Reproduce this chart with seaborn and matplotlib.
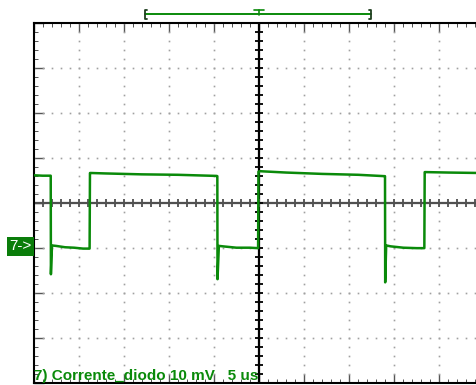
import numpy as np
import pandas as pd
import matplotlib
matplotlib.use("Agg")
import matplotlib.pyplot as plt
import matplotlib.transforms as mtrans
import seaborn as sns

# ---- data ----
time_us = [0.0, 1.0, 1.88, 1.91, 1.93, 2.05, 2.5, 3.5, 4.5, 5.5, 6.22, 6.26, 6.4, 8.0, 12.0, 16.0, 20.3,
           20.38, 20.40, 20.55, 21.0, 22.5, 24.0, 24.9, 24.94, 25.1, 28.0, 32.0, 36.0, 38.9,
           38.97, 38.99, 39.1, 39.6, 41.0, 42.5, 43.33, 43.37, 43.5, 46.0, 49.5]
voltage_mV = [16.1, 16.0, 16.0, 16.0, -5.9, 0.5, 0.4, 0.1, 0.0, -0.2, -0.2, 16.6, 16.6, 16.5, 16.3, 16.2, 15.95,
              15.9, -7.0, 0.4, 0.3, 0.0, 0.0, -0.1, 16.9, 17.0, 16.7, 16.4, 16.2, 15.9,
              15.9, -7.7, 0.5, 0.3, 0.0, -0.1, -0.1, 16.8, 16.8, 16.7, 16.6]

channel_label = "7) Corrente_diodo 10 mV   5 us"
marker_label = "7->"
window_start_us = 12.36
window_end_us = 37.42
trigger_us = 25.0

GREEN = "#0a8a0a"
DOT = "#a0a0a0"
px = 0.72  # points per pixel at dpi 100

df = pd.DataFrame({"t": time_us, "v": voltage_mV})

sns.set_style("white")
plt.rcParams['font.family'] = ['Liberation Sans', 'DejaVu Sans']

fig = plt.figure(figsize=(4.76, 3.85), dpi=100)
W, H = 476, 385
left, top, bottom = 33.5, 22.7, 382.7
ax = fig.add_axes([left / W, (H - bottom) / H, (484.5 - left) / W, (bottom - top) / H])
ax.set_xlim(0, 50)
ax.set_ylim(-30, 50)

# dotted graticule
for gx in range(5, 50, 5):
    if gx == 25:
        continue
    ys = np.arange(-30, 50.1, 2)
    ax.plot([gx] * len(ys), ys, ls="none", marker="s", ms=1.2, mew=0, color=DOT, zorder=1)
for gy in range(-20, 50, 10):
    if gy == 10:
        continue
    xs = np.arange(0, 50.1, 1)
    ax.plot(xs, [gy] * len(xs), ls="none", marker="s", ms=1.2, mew=0, color=DOT, zorder=1)

# centre cross with ticks
ax.axvline(25, color="black", lw=1.6 * px * 1.4, zorder=2)
ax.axhline(10, color="#505050", lw=1.6 * px * 1.4, zorder=2)
xs = np.arange(0, 50.1, 1)
ax.plot(xs, [10] * len(xs), ls="none", marker="|", ms=8 * px, mew=1.3 * px * 1.4, color="#505050", zorder=2)
ys = np.arange(-30, 50.1, 2)
ax.plot([25] * len(ys), ys, ls="none", marker="_", ms=8 * px, mew=1.3 * px * 1.4, color="black", zorder=2)

# trace
sns.lineplot(data=df, x="t", y="v", sort=False, estimator=None, color=GREEN, lw=1.8, ax=ax, zorder=3)

# spines/ticks
for s in ["top", "left", "bottom"]:
    ax.spines[s].set_color("black")
    ax.spines[s].set_linewidth(1.5)
ax.spines["right"].set_visible(False)
ax.set_xticks(np.arange(0, 51, 5))
ax.set_xticks(np.arange(0, 51, 1), minor=True)
ax.set_yticks(np.arange(-30, 51, 10))
ax.set_yticks(np.arange(-30, 51, 2), minor=True)
ax.tick_params(axis="x", which="major", direction="in", length=9 * px, width=1.4 * px, color="#555555",
               top=True, bottom=True, labelbottom=False, labeltop=False)
ax.tick_params(axis="x", which="minor", direction="in", length=4 * px, width=1.0 * px, color="#555555",
               top=True, bottom=True)
ax.tick_params(axis="y", which="major", direction="in", length=10 * px, width=1.4 * px, color="#555555",
               left=True, right=False, labelleft=False)
ax.tick_params(axis="y", which="minor", direction="in", length=3.5 * px, width=1.0 * px, color="#555555",
               left=True, right=False)
ax.set_xlabel("")
ax.set_ylabel("")

# time-window bracket above the screen
tr = mtrans.blended_transform_factory(ax.transData, ax.transAxes)
def fy(ypx):
    return 1 + (top - ypx) / (bottom - top)
ax.plot([window_start_us, window_end_us], [fy(14)] * 2, color=GREEN, lw=1.4, transform=tr, clip_on=False)
for xb, d in [(window_start_us, 1), (window_end_us, -1)]:
    ax.plot([xb + d * 0.25, xb, xb, xb + d * 0.25], [fy(9.5), fy(9.5), fy(19), fy(19)],
            color="#1f3f1f", lw=1.3, transform=tr, clip_on=False)
ax.plot([trigger_us, trigger_us], [fy(9.5), fy(15)], color=GREEN, lw=1.2, transform=tr, clip_on=False)
ax.plot([trigger_us - 0.5, trigger_us + 0.5], [fy(9.5)] * 2, color=GREEN, lw=1.2, transform=tr, clip_on=False)

# ground marker
trm = mtrans.blended_transform_factory(ax.transAxes, ax.transData)
ax.text(-0.004, 0.3, marker_label, transform=trm, ha="right", va="center", color="white", fontsize=11,
        bbox=dict(facecolor="#0a7d0a", edgecolor="none", boxstyle="square,pad=0.15"), clip_on=False)

# channel label
ax.text(0.0, -29.3, channel_label, ha="left", va="baseline", color="#0a8a0a", fontsize=11,
        fontweight="bold", zorder=4)

fig.savefig("out.png", dpi=100)
